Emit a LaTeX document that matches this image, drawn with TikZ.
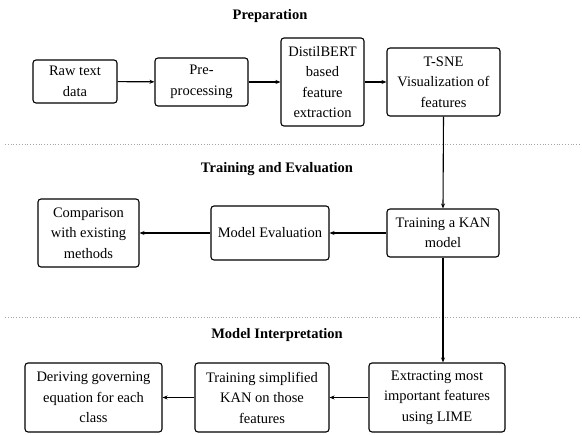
\documentclass[tikz,border=0pt]{standalone}
\usepackage{fontspec}
\setmainfont{Liberation Serif}
\usetikzlibrary{arrows.meta}
\begin{document}
\begin{tikzpicture}[x=1pt,y=-1pt,
  box/.style={draw, line width=1.1pt, rounded corners=3pt, align=center, inner sep=0pt,
    font=\fontsize{14.5}{20.5}\selectfont},
  ttl/.style={font=\fontsize{14.5}{17}\selectfont\bfseries},
  arr/.style={line width=1.1pt, -{Stealth[length=5pt,width=4pt]}},
  sep/.style={gray!70, line width=0.8pt, dotted}]
\useasboundingbox (0,0) rectangle (582,435);
\node[ttl] (t1) at (270,16) {Preparation};
\node[ttl] (t2) at (277,169) {Training and Evaluation};
\node[ttl] (t3) at (277,335) {Model Interpretation};
\coordinate (s1a) at (5,144); \coordinate (s1b) at (582,144);
\coordinate (s2a) at (5,317); \coordinate (s2b) at (582,317);
\draw[sep] (s1a) -- (s1b);
\draw[sep] (s2a) -- (s2b);
% row 1
\node[box, minimum width=84pt, minimum height=43pt] (raw) at (75,81.5) {Raw text\\data};
\node[box, minimum width=93pt, minimum height=48pt] (pre) at (201.5,82) {Pre-\\processing};
\node[box, minimum width=83pt, minimum height=88pt] (bert) at (322.5,82) {DistilBERT\\based\\feature\\extraction};
\node[box, minimum width=113pt, minimum height=68pt] (tsne) at (443.5,82) {T-SNE\\Visualization of\\features};
% row 2
\node[box, minimum width=112pt, minimum height=48pt] (kan) at (443,233) {Training a KAN\\model};
\node[box, minimum width=118pt, minimum height=54pt] (eval) at (270,233) {Model Evaluation};
\node[box, minimum width=101pt, minimum height=68pt] (comp) at (88.5,233) {Comparison\\with existing\\methods};
% row 3
\node[box, minimum width=136pt, minimum height=69pt] (ext) at (437,397.5) {Extracting most\\important features\\using LIME};
\node[box, minimum width=134pt, minimum height=69pt] (simp) at (262,397.5) {Training simplified\\KAN on those\\features};
\node[box, minimum width=137pt, minimum height=69pt] (der) at (93.5,397.5) {Deriving governing\\equation for each\\class};
% connectors
\draw[arr] (raw) -- (pre);
\draw[arr] (pre) -- (bert);
\draw[arr] (bert) -- (tsne);
\draw[arr] (tsne.south) -- (kan.north);
\draw[arr] (kan) -- (eval);
\draw[arr] (eval) -- (comp);
\draw[arr] (kan.south) -- (kan.south |- ext.north);
\draw[arr] (ext) -- (simp);
\draw[arr] (simp) -- (der);
\end{tikzpicture}
\end{document}
